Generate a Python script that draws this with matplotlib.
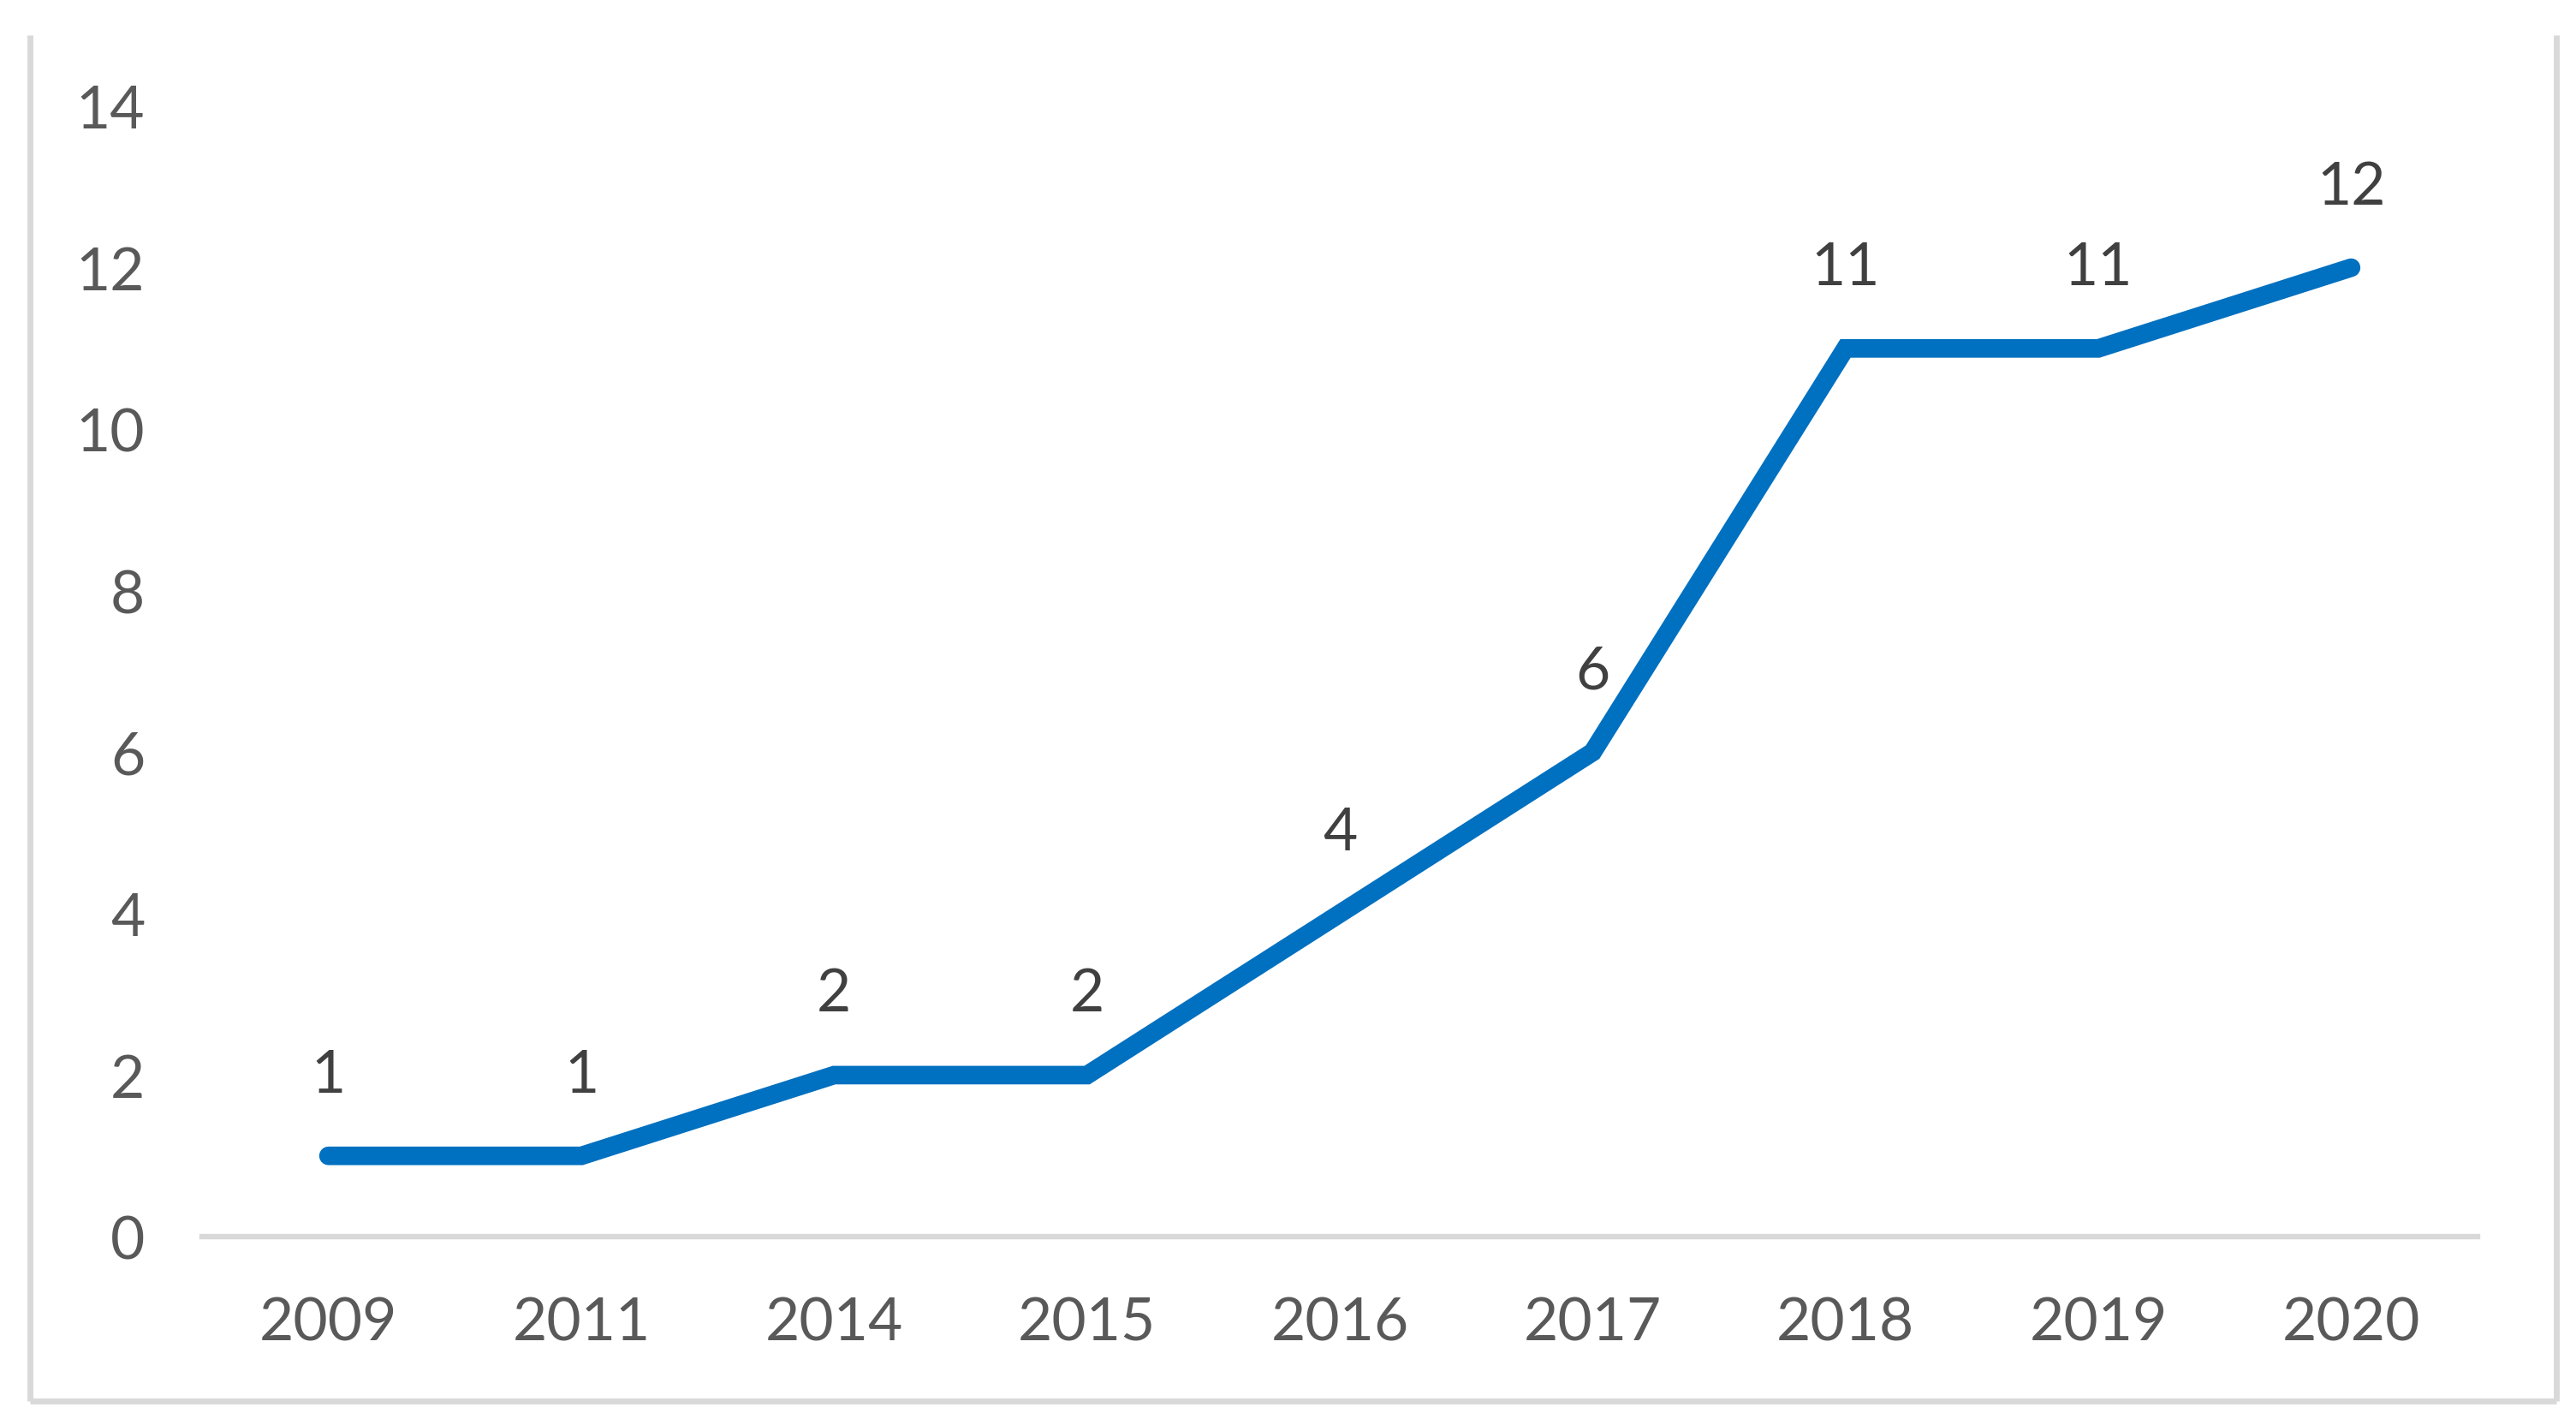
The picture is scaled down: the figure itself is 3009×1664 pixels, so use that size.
import matplotlib.pyplot as plt
from matplotlib.lines import Line2D

years = ['2009', '2011', '2014', '2015', '2016', '2017', '2018', '2019', '2020']
counts = [1, 1, 2, 2, 4, 6, 11, 11, 12]
y_ticks = [0, 2, 4, 6, 8, 10, 12, 14]

plt.rcParams['font.family'] = ['Lato', 'DejaVu Sans']

W, H = 3009, 1665
fig = plt.figure(figsize=(W / 200, H / 200), dpi=200)

# axes placed in pixel terms of the reference
left, right = 236 / W, 2894 / W
bottom, top = 1 - 1445 / H, 1 - 125 / H
ax = fig.add_axes([left, bottom, right - left, top - bottom])

x = list(range(len(years)))
ax.plot(x, counts, color='#0070C0', linewidth=7.8, solid_capstyle='round',
        solid_joinstyle='miter', clip_on=False)

for xi, v in zip(x, counts):
    ax.annotate(str(v), (xi, v), xytext=(0, 34), textcoords='offset points',
                ha='center', va='center', fontsize=25, color='#404040')

ax.set_xlim(-0.5, len(years) - 0.5)
ax.set_ylim(0, 14)
ax.set_xticks(x)
ax.set_xticklabels(years)
ax.set_yticks(y_ticks)
ax.tick_params(axis='both', length=0, labelsize=25, labelcolor='#595959')
ax.tick_params(axis='x', pad=25)
ax.tick_params(axis='y', pad=24)

for s in ['top', 'right', 'left']:
    ax.spines[s].set_visible(False)
ax.spines['bottom'].set_color('#D9D9D9')
ax.spines['bottom'].set_linewidth(2.3)

# chart frame (top edge is cropped off in the reference)
bx0, bx1 = 35 / W, 2986 / W
by0, by1 = 1 - 1637 / H, 1 - 42 / H
frame = dict(color='#D9D9D9', linewidth=2.5, transform=fig.transFigure,
             solid_capstyle='butt')
fig.add_artist(Line2D([bx0, bx0], [by0, by1], **frame))
fig.add_artist(Line2D([bx1, bx1], [by0, by1], **frame))
fig.add_artist(Line2D([bx0, bx1], [by0, by0], **frame))

fig.savefig('out.png', dpi=200, facecolor='white')
